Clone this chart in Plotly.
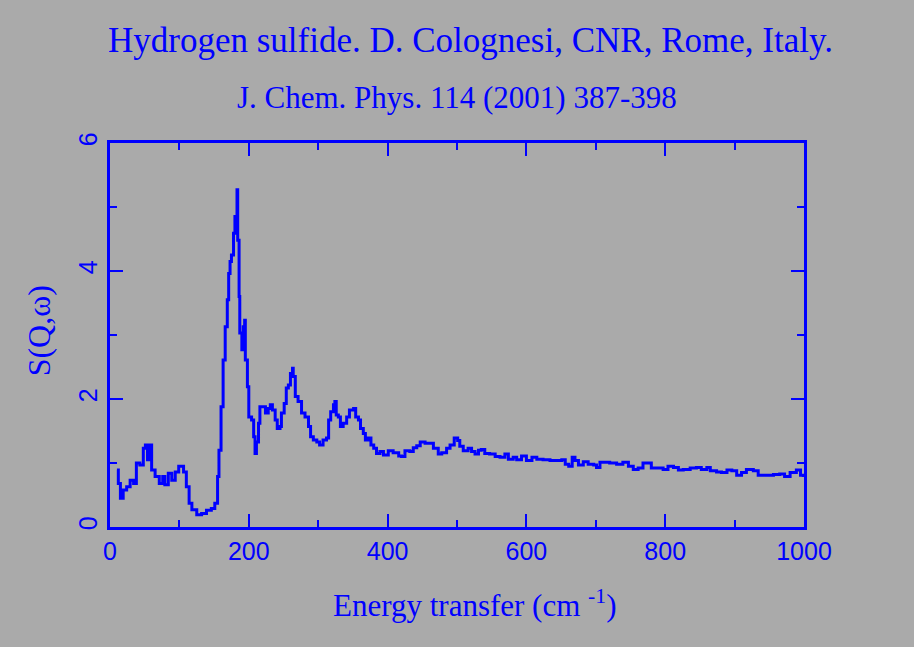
import plotly.graph_objects as go

BLUE = "#0000ff"
BG = "#aaaaaa"

# Energy transfer (cm^-1) and S(Q,w)
energy = [
    10, 12, 15, 19, 24, 29, 34, 38, 43, 48, 51, 54, 58, 60, 65, 71, 76, 79,
    84, 89, 94, 99, 106, 110, 114, 118, 125, 132, 139, 146, 151, 155, 157,
    160, 163, 166, 169, 171, 173, 175, 178, 180, 183, 184, 186, 187, 190,
    192, 194, 195, 198, 200, 204, 207, 209, 211, 214, 216, 221, 224, 228,
    231, 234, 238, 241, 245, 247, 251, 254, 257, 260, 263, 264, 267, 271,
    276, 281, 286, 289, 293, 298, 302, 307, 312, 315, 318, 322, 324, 326,
    329, 332, 336, 341, 345, 351, 354, 358, 361, 365, 368, 372, 376, 380,
    384, 389, 394, 401, 408, 416, 420, 425, 432, 437, 442, 447, 454, 460,
    466, 473, 478, 485, 490, 496, 501, 504, 509, 516, 521, 526, 531, 535,
    540, 547, 555, 562, 569, 574, 581, 586, 593, 600, 608, 615, 624, 634,
    644, 651, 656, 661, 666, 670, 675, 682, 689, 697, 701, 706, 713, 720,
    730, 739, 747, 754, 761, 768, 776, 780, 788, 797, 804, 812, 819, 826,
    836, 845, 852, 860, 865, 874, 881, 889, 896, 903, 910, 917, 927, 934,
    946, 956, 965, 972, 980, 989, 995, 999,
]
s_qw = [
    0.89, 0.68, 0.45, 0.58, 0.63, 0.73, 0.68, 1.00, 0.97, 1.23, 1.28, 1.05,
    1.28, 0.89, 0.79, 0.68, 0.79, 0.66, 0.84, 0.73, 0.86, 0.95, 0.86, 0.63,
    0.37, 0.27, 0.19, 0.21, 0.26, 0.29, 0.37, 0.79, 1.20, 1.88, 2.61, 3.13,
    3.55, 3.96, 4.15, 4.25, 4.59, 4.85, 5.27, 4.48, 3.60, 3.03, 2.77, 3.13,
    3.23, 2.61, 2.19, 1.72, 1.67, 1.41, 1.15, 1.33, 1.62, 1.88, 1.88, 1.78,
    1.85, 1.91, 1.83, 1.67, 1.54, 1.57, 1.78, 1.93, 2.17, 2.22, 2.40, 2.48,
    2.35, 2.04, 1.96, 1.78, 1.72, 1.57, 1.41, 1.36, 1.33, 1.28, 1.36, 1.39,
    1.67, 1.80, 1.91, 1.96, 1.75, 1.72, 1.57, 1.62, 1.72, 1.83, 1.85, 1.72,
    1.67, 1.54, 1.46, 1.36, 1.39, 1.28, 1.23, 1.15, 1.18, 1.125, 1.19, 1.16,
    1.11, 1.10, 1.19, 1.18, 1.24, 1.27, 1.33, 1.31, 1.31, 1.23, 1.14, 1.16,
    1.23, 1.28, 1.39, 1.35, 1.26, 1.19, 1.23, 1.18, 1.14, 1.20, 1.21, 1.15,
    1.14, 1.10, 1.09, 1.14, 1.06, 1.09, 1.05, 1.11, 1.04, 1.09, 1.06, 1.05,
    1.04, 1.04, 1.05, 0.98, 0.95, 1.09, 1.04, 0.97, 1.02, 0.98, 0.97, 0.93,
    1.01, 1.01, 1.00, 0.98, 1.01, 0.95, 0.90, 0.92, 1.00, 1.00, 0.92, 0.92,
    0.90, 0.95, 0.93, 0.89, 0.90, 0.92, 0.93, 0.90, 0.93, 0.88, 0.86, 0.85,
    0.89, 0.88, 0.81, 0.85, 0.90, 0.88, 0.81, 0.81, 0.82, 0.83, 0.79, 0.85,
    0.89, 0.81, 0.78,
]

title = "Hydrogen sulfide. D. Colognesi, CNR, Rome, Italy."
subtitle = "J. Chem. Phys. 114 (2001) 387-398"
x_label = "Energy transfer (cm <sup>-1</sup>)"
y_label = "S(Q,\u03c9)"

serif = "Liberation Serif, Times New Roman, serif"
sans = "Liberation Sans, Arial, sans-serif"

fig = go.Figure()
fig.add_trace(
    go.Scatter(
        x=energy,
        y=s_qw,
        mode="lines",
        line=dict(color=BLUE, width=3, shape="hv"),
        showlegend=False,
    )
)

axis_common = dict(
    showline=True,
    linecolor=BLUE,
    linewidth=3,
    mirror="ticks",
    ticks="inside",
    ticklen=13,
    tickwidth=2,
    tickcolor=BLUE,
    showgrid=False,
    zeroline=False,
    tickfont=dict(family=sans, size=25, color=BLUE),
)

fig.update_xaxes(
    range=[0, 1000],
    dtick=200,
    minor=dict(dtick=100, ticklen=7, tickwidth=2, tickcolor=BLUE, ticks="inside"),
    **axis_common,
)
fig.update_yaxes(
    range=[0, 6],
    dtick=2,
    tickangle=-90,
    minor=dict(dtick=1, ticklen=7, tickwidth=2, tickcolor=BLUE, ticks="inside"),
    **axis_common,
)

fig.update_layout(
    width=914,
    height=647,
    margin=dict(l=110, r=110, t=143, b=120),
    paper_bgcolor=BG,
    plot_bgcolor=BG,
    annotations=[
        dict(text=title, x=0.52, y=1.266, xref="paper", yref="paper",
             xanchor="center", yanchor="middle", showarrow=False,
             font=dict(family=serif, size=35, color=BLUE)),
        dict(text=subtitle, x=0.5, y=1.118, xref="paper", yref="paper",
             xanchor="center", yanchor="middle", showarrow=False,
             font=dict(family=serif, size=31, color=BLUE)),
        dict(text=x_label, x=0.525, y=-0.198, xref="paper", yref="paper",
             xanchor="center", yanchor="middle", showarrow=False,
             font=dict(family=serif, size=31, color=BLUE)),
        dict(text=y_label, x=-0.102, y=0.51, xref="paper", yref="paper",
             xanchor="center", yanchor="middle", showarrow=False, textangle=-90,
             font=dict(family=serif, size=32, color=BLUE)),
    ],
)

# drop the page's default body margin so the figure fills the window
fig.write_html(
    "out.html",
    config={"displayModeBar": False},
    post_script="document.body.style.margin='0';document.body.style.background='#aaaaaa';",
)
